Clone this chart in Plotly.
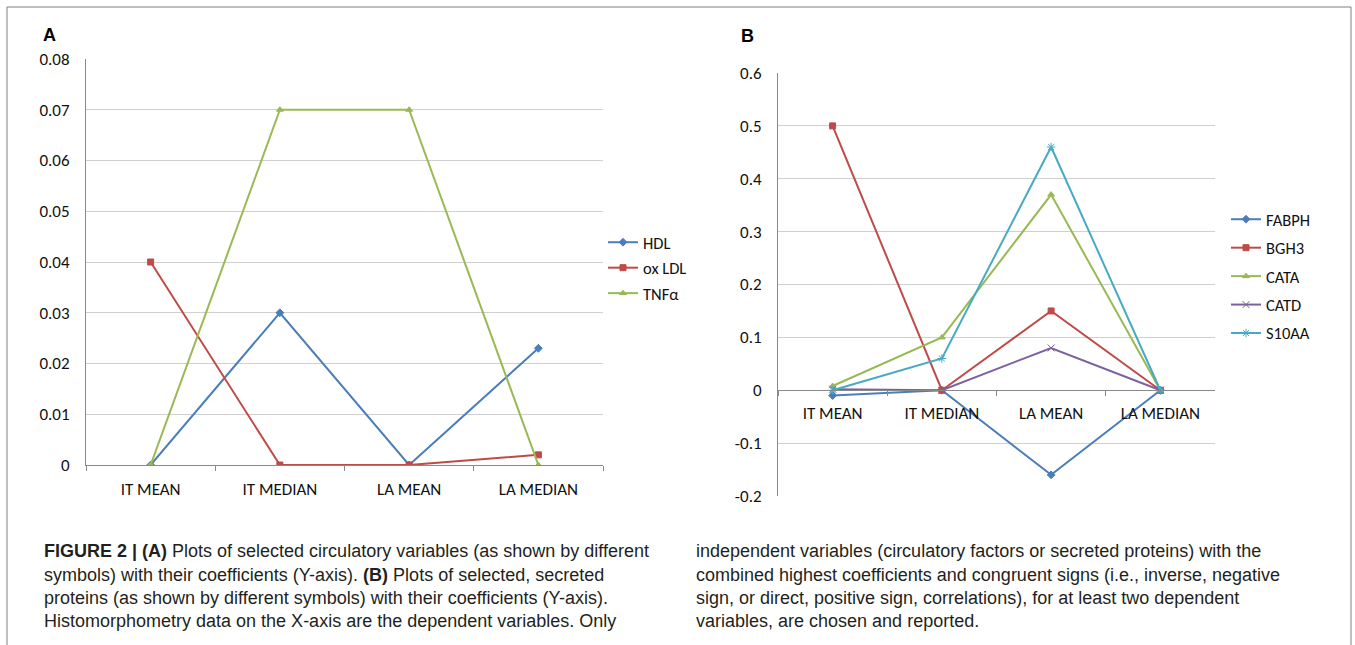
import plotly.graph_objects as go

W, H = 1355, 645

categories = ["IT MEAN", "IT MEDIAN", "LA MEAN", "LA MEDIAN"]

# Panel A
hdl = [0, 0.03, 0, 0.023]
ox_ldl = [0.04, 0, 0, 0.002]
tnfa = [0, 0.07, 0.07, 0]

# Panel B
fabph = [-0.01, 0, -0.16, 0]
bgh3 = [0.5, 0, 0.15, 0]
cata = [0.008, 0.1, 0.37, 0]
catd = [0.002, 0, 0.08, 0]
s10aa = [0, 0.06, 0.46, 0]

b_tickvals = [0.6, 0.5, 0.4, 0.3, 0.2, 0.1, 0, -0.1, -0.2]
b_ticktext = ["0.6", "0.5", "0.4", "0.3", "0.2", "0.1", "0", "-0.1", "-0.2"]

caption_left = [
    "<b>FIGURE 2 | (A)</b> Plots of selected circulatory variables (as shown by different",
    "symbols) with their coefficients (Y-axis). <b>(B)</b> Plots of selected, secreted",
    "proteins (as shown by different symbols) with their coefficients (Y-axis).",
    "Histomorphometry data on the X-axis are the dependent variables. Only",
]
caption_right = [
    "independent variables (circulatory factors or secreted proteins) with the",
    "combined highest coefficients and congruent signs (i.e., inverse, negative",
    "sign, or direct, positive sign, correlations), for at least two dependent",
    "variables, are chosen and reported.",
]

BLUE = "#4A7EBB"
RED = "#BE4B48"
GREEN = "#98B954"
PURPLE = "#7D60A0"
CYAN = "#46AAC5"

CHART_FONT = "Carlito, Lato, 'Open Sans', sans-serif"
CAP_FONT = "'Liberation Sans', Arial, sans-serif"

def px_x(x):
    return x / W

def px_y(y):
    return 1 - y / H

fig = go.Figure()

def add(y, name, color, symbol, xa, ya, legend, size=6):
    fig.add_trace(go.Scatter(
        x=categories, y=y, name=name, mode="lines+markers",
        line=dict(color=color, width=2),
        marker=dict(color=color, symbol=symbol, size=size,
                    line=dict(color=color, width=1)),
        xaxis=xa, yaxis=ya, legend=legend, legendgroup=name,
    ))

add(hdl, "HDL", BLUE, "diamond", "x", "y", "legend")
add(ox_ldl, "ox LDL", RED, "square", "x", "y", "legend")
add(tnfa, "TNFα", GREEN, "triangle-up", "x", "y", "legend")

add(fabph, "FABPH", BLUE, "diamond", "x2", "y2", "legend2")
add(bgh3, "BGH3", RED, "square", "x2", "y2", "legend2")
add(cata, "CATA", GREEN, "triangle-up", "x2", "y2", "legend2")
add(catd, "CATD", PURPLE, "x-thin-open", "x2", "y2", "legend2", size=7)
add(s10aa, "S10AA", CYAN, "asterisk-open", "x2", "y2", "legend2", size=7)

# Domains (pixel-derived)
xa_dom = [px_x(86), px_x(603)]
ya_dom = [px_y(465), px_y(59)]
xb_dom = [px_x(778), px_x(1215)]
yb_dom = [px_y(496), px_y(73)]
b_zero_pos = yb_dom[0] + (0 - (-0.2)) / (0.6 - (-0.2)) * (yb_dom[1] - yb_dom[0])

axis_col = "#898989"
grid_col = "#D0D0D0"
tick_font = dict(family=CHART_FONT, size=17, color="#111111")
leg_font = dict(family=CHART_FONT, size=16.5, color="#111111")

fig.update_layout(
    width=W, height=H,
    autosize=False,
    margin=dict(l=0, r=0, t=0, b=0, pad=0, autoexpand=False),
    paper_bgcolor="white", plot_bgcolor="white",
    showlegend=True,
    xaxis=dict(domain=xa_dom, anchor="y", type="category", range=[-0.5, 3.5],
               automargin=False,
               showline=True, linecolor=axis_col, linewidth=1,
               ticks="outside", tickson="boundaries", ticklen=5, tickcolor=axis_col,
               showgrid=False, tickfont=tick_font, ticklabelstandoff=9),
    yaxis=dict(domain=ya_dom, anchor="x", range=[0, 0.08], dtick=0.01,
               automargin=False,
               showline=True, linecolor=axis_col, linewidth=1,
               showgrid=True, gridcolor=grid_col, gridwidth=1, zeroline=False,
               tickfont=tick_font, ticks="", ticklabelstandoff=12),
    xaxis2=dict(domain=xb_dom, anchor="free", position=b_zero_pos, type="category",
                range=[-0.5, 3.5], automargin=False,
                showline=True, linecolor=axis_col, linewidth=1,
                ticks="outside", tickson="boundaries", ticklen=5, tickcolor=axis_col,
                showgrid=False, tickfont=tick_font, ticklabelstandoff=7),
    yaxis2=dict(domain=yb_dom, anchor="x2", range=[-0.2, 0.6],
                tickvals=b_tickvals, ticktext=b_ticktext, automargin=False,
                showline=True, linecolor=axis_col, linewidth=1,
                showgrid=True, gridcolor=grid_col, gridwidth=1, zeroline=False,
                tickfont=tick_font, ticks="", ticklabelstandoff=12),
    legend=dict(x=px_x(603), y=px_y(225), xanchor="left", yanchor="top",
                font=leg_font,
                itemwidth=30, tracegroupgap=1, bgcolor="rgba(0,0,0,0)",
                traceorder="grouped"),
    legend2=dict(x=px_x(1226), y=px_y(202), xanchor="left", yanchor="top",
                 font=leg_font,
                 itemwidth=30, tracegroupgap=4, bgcolor="rgba(0,0,0,0)",
                 traceorder="grouped"),
)

# Outer frame
fig.add_shape(type="rect", xref="paper", yref="paper",
              x0=px_x(7), x1=px_x(1351), y0=px_y(660), y1=px_y(7),
              line=dict(color="#7F7F7F", width=1), fillcolor="rgba(0,0,0,0)")

# Panel letters
fig.add_annotation(text="<b>A</b>", xref="paper", yref="paper",
                   x=px_x(41), y=px_y(35), xanchor="left", yanchor="middle",
                   showarrow=False, font=dict(family="Liberation Sans, Arial", size=18, color="black"))
fig.add_annotation(text="<b>B</b>", xref="paper", yref="paper",
                   x=px_x(739), y=px_y(36), xanchor="left", yanchor="middle",
                   showarrow=False, font=dict(family="Liberation Sans, Arial", size=18, color="black"))

# Caption
line_y = [551, 575, 598, 621]
for i, t in enumerate(caption_left):
    fig.add_annotation(text=t, xref="paper", yref="paper", x=px_x(42), y=px_y(line_y[i]),
                       xanchor="left", yanchor="middle", showarrow=False,
                       font=dict(family=CAP_FONT, size=18, color="#231F20"))
for i, t in enumerate(caption_right):
    fig.add_annotation(text=t, xref="paper", yref="paper", x=px_x(694), y=px_y(line_y[i]),
                       xanchor="left", yanchor="middle", showarrow=False,
                       font=dict(family=CAP_FONT, size=18, color="#231F20"))

fig.write_html(
    "out.html",
    config={"displayModeBar": False, "responsive": False},
    post_script="document.body.style.margin='0';document.body.style.padding='0';"
                "document.documentElement.style.overflow='hidden';",
)
